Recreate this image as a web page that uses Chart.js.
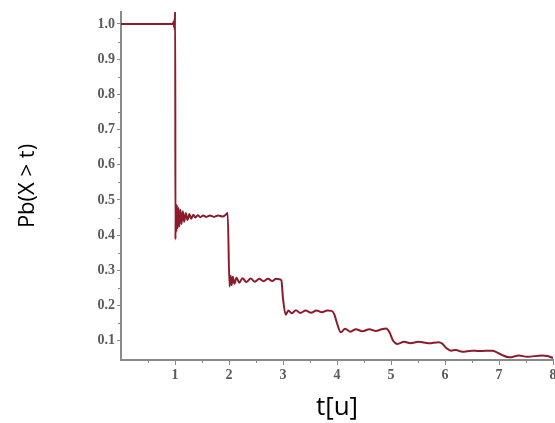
<!DOCTYPE html>
<html>
<head>
<meta charset="utf-8">
<script src="https://cdn.jsdelivr.net/npm/chart.js@4/dist/chart.umd.min.js"></script>
<style>
  html, body { margin: 0; padding: 0; background: #fff; }
  #wrap { width: 555px; height: 423px; }
</style>
</head>
<body>
<div id="wrap"><canvas id="chart"></canvas></div>
<script>
// survival curve (t, Pb(X > t))
const tValues = [
  0, 0.9, 0.96, 0.975, 0.985, 0.992, 0.997, 1.0, 1.004,
  1.008, 1.015, 1.025, 1.035, 1.05, 1.065, 1.08, 1.1, 1.12, 1.145, 1.17, 1.2, 1.23,
  1.265, 1.3, 1.34, 1.38, 1.42, 1.47, 1.52, 1.58, 1.65, 1.72, 1.8, 1.88, 1.94, 1.975,
  2.01, 2.03, 2.05, 2.07, 2.1, 2.14, 2.19, 2.25, 2.32, 2.4, 2.48, 2.56, 2.64, 2.72,
  2.8, 2.87, 2.93, 2.97,
  3.0, 3.05, 3.1, 3.16, 3.24, 3.32, 3.42, 3.52, 3.62, 3.72, 3.82, 3.9, 3.95,
  4.0, 4.07, 4.15, 4.25, 4.35, 4.47, 4.6, 4.72, 4.83, 4.91, 4.97,
  5.04, 5.12, 5.24, 5.36, 5.51, 5.7, 5.88, 5.95,
  6.02, 6.11, 6.2, 6.32, 6.5, 6.63, 6.88, 6.95,
  7.05, 7.19, 7.37, 7.52, 7.8, 7.9, 8.0
];
const pValues = [
  1.0, 1.0, 1.0, 1.006, 0.99, 1.015, 0.982, 1.04, 1.04,
  0.388, 0.49, 0.41, 0.485, 0.42, 0.478, 0.425, 0.472, 0.432, 0.468, 0.438, 0.463, 0.443,
  0.46, 0.447, 0.458, 0.45, 0.457, 0.451, 0.456, 0.452, 0.456, 0.452, 0.456, 0.453, 0.458, 0.463,
  0.254, 0.285, 0.258, 0.282, 0.262, 0.279, 0.265, 0.278, 0.267, 0.277, 0.268, 0.276, 0.269, 0.276,
  0.27, 0.276, 0.275, 0.272,
  0.22, 0.174, 0.186, 0.178, 0.187, 0.179, 0.186, 0.18, 0.186, 0.181, 0.186, 0.185, 0.175,
  0.15, 0.124, 0.134, 0.126, 0.133, 0.127, 0.133, 0.128, 0.133, 0.135, 0.125,
  0.1, 0.091, 0.097, 0.093, 0.097, 0.093, 0.096, 0.092,
  0.08, 0.072, 0.074, 0.069, 0.072, 0.071, 0.072, 0.068,
  0.06, 0.053, 0.058, 0.055, 0.058, 0.057, 0.051
];
const xTickValues = [1, 2, 3, 4, 5, 6, 7, 8];
const yTickValues = [0.1, 0.2, 0.3, 0.4, 0.5, 0.6, 0.7, 0.8, 0.9, 1.0];
const xMinorTicks = [0.5, 1.5, 2.5, 3.5, 4.5, 5.5, 6.5, 7.5];
const yMinorTicks = [0.15, 0.25, 0.35, 0.45, 0.55, 0.65, 0.75, 0.85, 0.95];

const points = tValues.map((t, i) => ({ x: t, y: pValues[i] }));

const axisColor = "#8a8a8a";
const tickFont = { family: "'Liberation Serif', 'DejaVu Serif', serif", size: 14, weight: "bold" };

// little unlabeled ticks between the labeled ones
const minorTicks = {
  id: "minorTicks",
  afterDraw(chart) {
    const ctx = chart.ctx;
    const xs = chart.scales.x;
    const ys = chart.scales.y;
    ctx.save();
    ctx.strokeStyle = axisColor;
    ctx.lineWidth = 1;
    ctx.beginPath();
    xMinorTicks.forEach(v => {
      const px = Math.round(xs.getPixelForValue(v)) + 0.5;
      ctx.moveTo(px, xs.top);
      ctx.lineTo(px, xs.top + 3);
    });
    yMinorTicks.forEach(v => {
      const py = Math.round(ys.getPixelForValue(v)) + 0.5;
      ctx.moveTo(ys.right, py);
      ctx.lineTo(ys.right - 3, py);
    });
    ctx.stroke();
    ctx.restore();
  }
};

new Chart(document.getElementById("chart").getContext("2d"), {
  type: "line",
  data: {
    datasets: [
      {
        data: points,
        borderColor: "#8c1c2c",
        borderWidth: 2,
        pointRadius: 0,
        cubicInterpolationMode: "monotone",
        fill: false,
      },
    ],
  },
  options: {
    responsive: true,
    maintainAspectRatio: false,
    animation: false,
    layout: { padding: { top: 12, right: 2, bottom: 0, left: 0 } },
    plugins: {
      legend: { display: false },
      tooltip: { enabled: false },
    },
    scales: {
      x: {
        type: "linear",
        min: 0,
        max: 8,
        afterBuildTicks(scale) {
          scale.ticks = xTickValues.map(v => ({ value: v }));
        },
        afterFit(scale) {
          scale.height = 63;
          scale.paddingLeft = 0;
          scale.paddingRight = 0;
        },
        grid: { drawOnChartArea: false, drawTicks: true, tickLength: 5, color: axisColor },
        border: { display: true, color: axisColor, width: 2 },
        ticks: {
          color: "#5a5a5a",
          font: tickFont,
          padding: 2,
          maxRotation: 0,
          callback: v => String(v),
        },
        title: {
          display: true,
          text: "t[u]",
          color: "#000",
          font: { family: "'Open Sans', 'Liberation Sans', sans-serif", size: 26, lineHeight: 1 },
          padding: { top: 0, bottom: 2 },
        },
      },
      y: {
        type: "linear",
        min: 0.0455,
        max: 1.034,
        afterBuildTicks(scale) {
          scale.ticks = yTickValues.map(v => ({ value: v }));
        },
        afterFit(scale) {
          scale.width = 121;
          scale.paddingTop = 0;
          scale.paddingBottom = 0;
        },
        grid: { drawOnChartArea: false, drawTicks: true, tickLength: 4, color: axisColor },
        border: { display: true, color: axisColor, width: 2 },
        ticks: {
          color: "#5a5a5a",
          font: tickFont,
          padding: 2,
          callback: v => Number(v).toFixed(1),
        },
        title: {
          display: true,
          text: "Pb(X > t)",
          color: "#000",
          font: { family: "'Open Sans', 'Liberation Sans', sans-serif", size: 22, lineHeight: 1.2 },
          padding: { top: 15, bottom: 0 },
        },
      },
    },
  },
  plugins: [minorTicks],
});
</script>
</body>
</html>
